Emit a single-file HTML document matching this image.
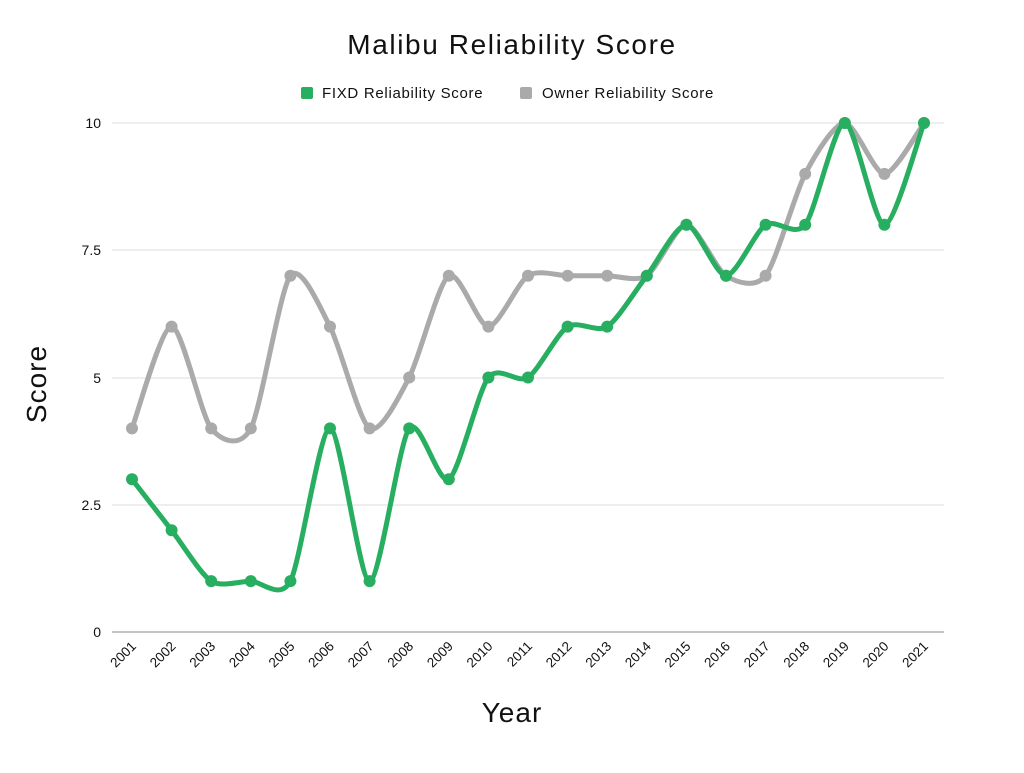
<!DOCTYPE html>
<html><head><meta charset="utf-8"><style>
html,body{margin:0;padding:0;background:#fff;}
svg text{font-family:"Liberation Sans",sans-serif;fill:#111;}
</style></head><body>
<svg id="c" width="1024" height="768" xmlns="http://www.w3.org/2000/svg">
<rect width="1024" height="768" fill="#fff"/>
<text x="512" y="54" font-size="28" letter-spacing="1.6" text-anchor="middle">Malibu Reliability Score</text>
<rect x="301" y="87" width="12" height="12" rx="2" fill="#27ae60"/>
<text x="322" y="98" font-size="15" letter-spacing="0.7">FIXD Reliability Score</text>
<rect x="520" y="87" width="12" height="12" rx="2" fill="#aaaaaa"/>
<text x="542" y="98" font-size="15" letter-spacing="0.7">Owner Reliability Score</text>
<g stroke="#dddddd" stroke-width="1">
<line x1="112" x2="944" y1="123" y2="123"/>
<line x1="112" x2="944" y1="250" y2="250"/>
<line x1="112" x2="944" y1="378" y2="378"/>
<line x1="112" x2="944" y1="505" y2="505"/>
</g>
<line x1="112" x2="944" y1="632" y2="632" stroke="#888" stroke-width="1"/>
<g font-size="14" text-anchor="end">
<text x="101" y="128">10</text>
<text x="101" y="255">7.5</text>
<text x="101" y="383">5</text>
<text x="101" y="510">2.5</text>
<text x="101" y="637">0</text>
</g>
<text x="0" y="0" font-size="28" letter-spacing="1" text-anchor="middle" transform="translate(46,384) rotate(-90)">Score</text>
<text x="512" y="722" font-size="28" letter-spacing="1" text-anchor="middle">Year</text>
<g id="xl" font-size="13.5" text-anchor="end"></g>
<g id="series"></g>
</svg>
<script>
var g=[3,2,1,1,1,4,1,4,3,5,5,6,6,7,8,7,8,8,10,8,10];
var o=[4,6,4,4,7,6,4,5,7,6,7,7,7,7,8,7,7,9,10,9,10];
function X(i){return 132+i*39.6;}
function Y(v){return 632-v*50.9;}
var NS="http://www.w3.org/2000/svg";
var xl=document.getElementById('xl');
for(var i=0;i<21;i++){
 var t=document.createElementNS(NS,'text');
 var x=X(i)+5,y=647;
 t.setAttribute('x',x);t.setAttribute('y',y);
 t.setAttribute('transform','rotate(-45 '+x+' '+y+')');
 t.textContent=2001+i;xl.appendChild(t);
}
function path(d){
 var p=d.map(function(v,i){return [X(i),Y(v)];});
 var s='M'+p[0][0]+','+p[0][1];
 var k=0.13;
 for(var i=0;i<p.length-1;i++){
  var p0=p[Math.max(i-1,0)],p1=p[i],p2=p[i+1],p3=p[Math.min(i+2,p.length-1)];
  var c1x=p1[0]+(p2[0]-p0[0])*k,c1y=p1[1]+(p2[1]-p0[1])*k;
  var c2x=p2[0]-(p3[0]-p1[0])*k,c2y=p2[1]-(p3[1]-p1[1])*k;
  s+=' C'+c1x+','+c1y+' '+c2x+','+c2y+' '+p2[0]+','+p2[1];
 }
 return s;
}
var ser=document.getElementById('series');
[[o,'#aaaaaa'],[g,'#27ae60']].forEach(function(a){
 var pa=document.createElementNS(NS,'path');
 pa.setAttribute('d',path(a[0]));pa.setAttribute('fill','none');
 pa.setAttribute('stroke',a[1]);pa.setAttribute('stroke-width','5');
 pa.setAttribute('stroke-linecap','round');
 ser.appendChild(pa);
 a[0].forEach(function(v,i){
  var c=document.createElementNS(NS,'circle');
  c.setAttribute('cx',X(i));c.setAttribute('cy',Y(v));c.setAttribute('r','6');
  c.setAttribute('fill',a[1]);ser.appendChild(c);
 });
});
</script>
</body></html>
